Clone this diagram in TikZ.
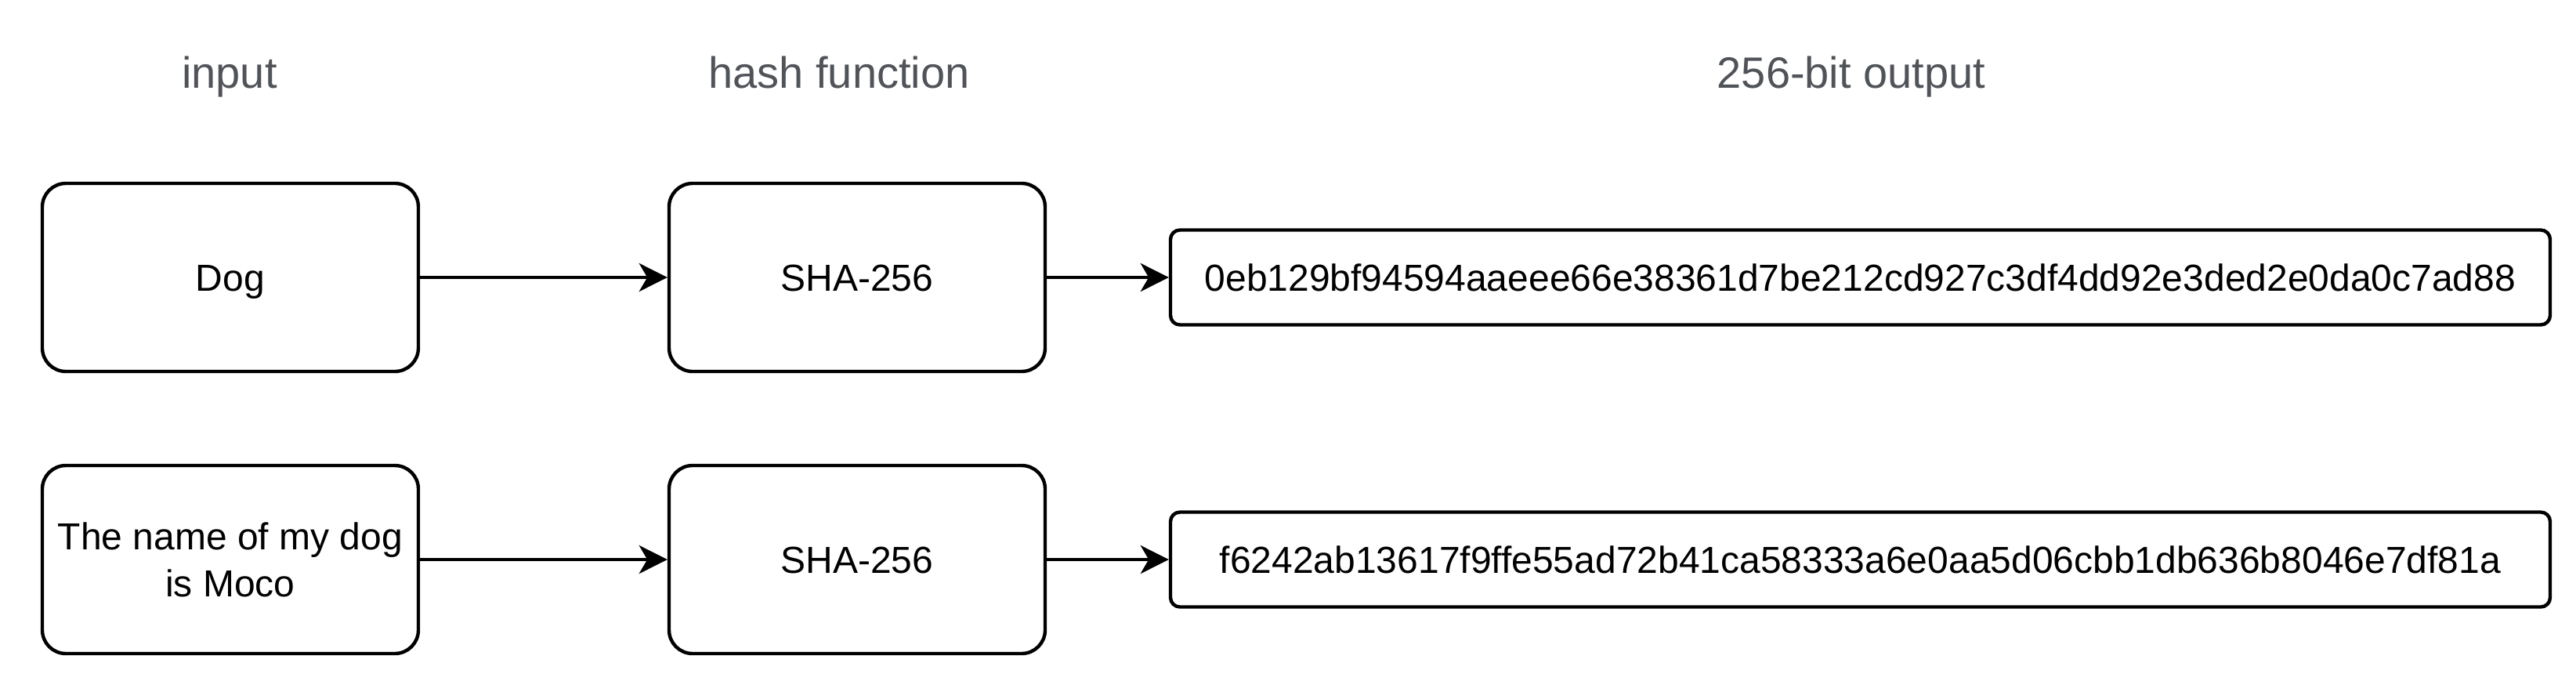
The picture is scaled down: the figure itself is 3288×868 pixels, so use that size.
\documentclass[tikz,border=0pt]{standalone}
\usepackage{fontspec}
\setmainfont{Liberation Sans}
\usetikzlibrary{arrows.meta}
\definecolor{headgray}{RGB}{80,84,89}
\tikzset{
  header/.style={text=headgray, font=\fontsize{14}{16.8}\selectfont, inner sep=0pt, anchor=base},
  bigbox/.style={draw=black, line width=1.1pt, rounded corners=7.5pt, minimum width=120pt, minimum height=60pt, inner sep=0pt,
    font=\fontsize{12}{15}\selectfont, text height=8.6pt, text depth=0pt},
  multibox/.style={draw=black, line width=1.1pt, rounded corners=7.5pt, minimum width=120pt, minimum height=60pt, inner sep=0pt,
    font=\fontsize{12}{15}\selectfont, align=center},
  outbox/.style={draw=black, line width=1.1pt, rounded corners=3pt, minimum width=440.25pt, minimum height=30.25pt, inner sep=0pt,
    font=\fontsize{12}{15}\selectfont, text height=8.6pt, text depth=0pt},
  arr/.style={draw=black, line width=1.1pt, -{Stealth[length=9pt,width=9pt,inset=2.6pt]}}
}
\begin{document}
\begin{tikzpicture}[x=0.25pt,y=-0.25pt]
\useasboundingbox (0,0) rectangle (3288,868);
% headers
\node[header] (hin) at (293,112) {input};
\node[header] (hhash) at (1071,112) {hash function};
\node[header] (hout) at (2363,112) {256-bit output};
% row 1
\node[bigbox] (dog) at (294,354) {Dog};
\node[bigbox] (sha1) at (1094,354) {SHA-256};
\node[outbox] (out1) at (2374.5,354) {0eb129bf94594aaeee66e38361d7be212cd927c3df4dd92e3ded2e0da0c7ad88};
% row 2
\node[multibox] (moco) at (294,714) {The name of my dog\\is Moco};
\node[bigbox] (sha2) at (1094,714) {SHA-256};
\node[outbox] (out2) at (2374.5,714) {f6242ab13617f9ffe55ad72b41ca58333a6e0aa5d06cbb1db636b8046e7df81a};
% connectors
\draw[arr] (dog.east) -- (sha1.west);
\draw[arr] (sha1.east) -- (out1.west);
\draw[arr] (moco.east) -- (sha2.west);
\draw[arr] (sha2.east) -- (out2.west);
\end{tikzpicture}
\end{document}
